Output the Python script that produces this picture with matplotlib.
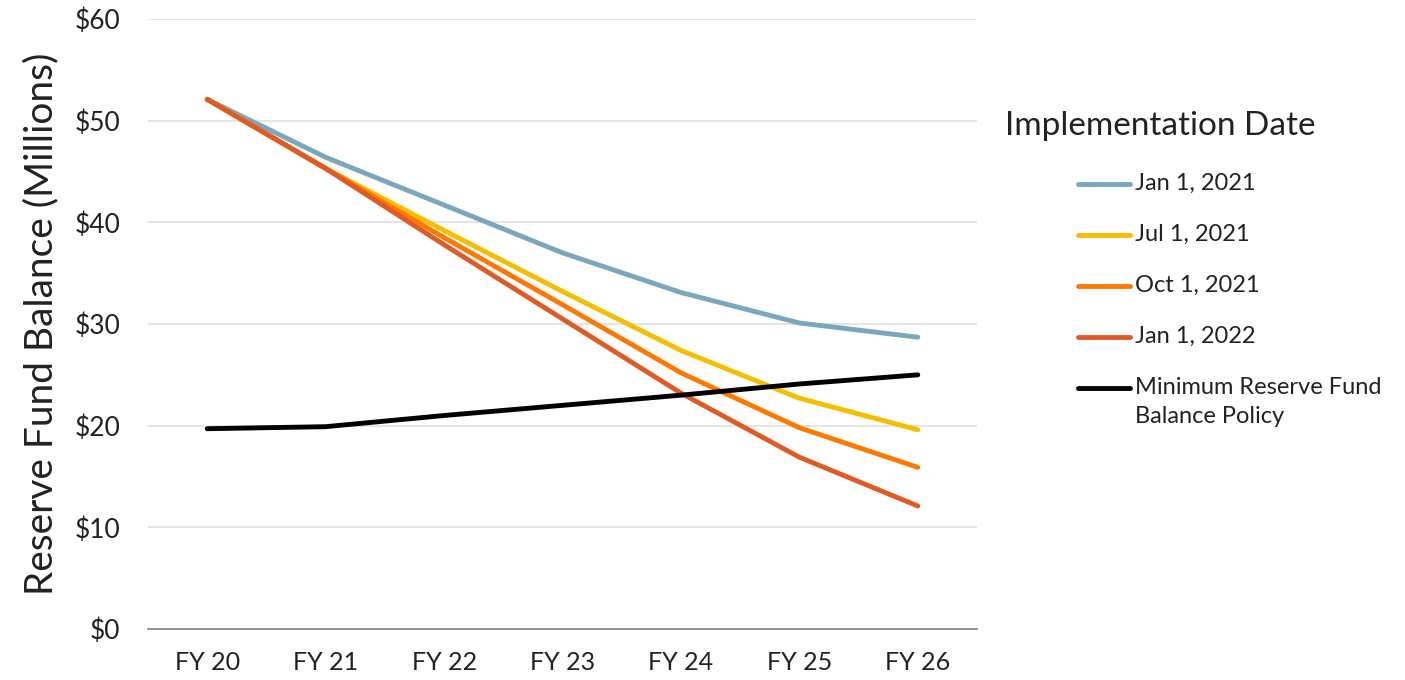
import matplotlib
matplotlib.use("Agg")
import matplotlib.pyplot as plt
from matplotlib.lines import Line2D

plt.rcParams['font.family'] = ['Lato', 'DejaVu Sans']

years = ['FY 20', 'FY 21', 'FY 22', 'FY 23', 'FY 24', 'FY 25', 'FY 26']
jan2021 = [52.1, 46.4, 41.7, 37.0, 33.1, 30.1, 28.7]
jul2021 = [52.1, 45.3, 39.2, 33.2, 27.4, 22.7, 19.6]
oct2021 = [52.1, 45.3, 38.5, 31.9, 25.2, 19.8, 15.9]
jan2022 = [52.1, 45.3, 37.8, 30.5, 23.2, 16.9, 12.1]
min_policy = [19.7, 19.9, 21.0, 22.0, 23.0, 24.1, 25.0]

series = [
    ('Jan 1, 2021', jan2021, '#7BA7BC'),
    ('Jul 1, 2021', jul2021, '#F5BF00'),
    ('Oct 1, 2021', oct2021, '#FF7800'),
    ('Jan 1, 2022', jan2022, '#E05A25'),
    ('Minimum Reserve Fund\nBalance Policy', min_policy, '#000000'),
]

W, H = 1405, 680
fig = plt.figure(figsize=(W / 100, H / 100), dpi=100)
ax = fig.add_axes([148 / W, 1 - 629 / H, 829 / W, 610 / H])

x = range(len(years))
for label, vals, col in series:
    ax.plot(x, vals, color=col, lw=3.5, solid_capstyle='round',
            solid_joinstyle='round', label=label)

ax.set_xlim(-0.5, len(years) - 0.5)
ax.set_ylim(0, 60)
ax.set_yticks(range(0, 61, 10))
ax.set_yticklabels(['$' + str(v) for v in range(0, 61, 10)])
ax.set_xticks(list(x))
ax.set_xticklabels(years)
ax.grid(axis='y', color='#E3E3E3', lw=1.3)
ax.set_axisbelow(True)
for s in ['top', 'right', 'left']:
    ax.spines[s].set_visible(False)
ax.spines['bottom'].set_color('#8C8C8C')
ax.spines['bottom'].set_linewidth(1.3)
ax.tick_params(axis='both', length=0, labelsize=18, colors='#222222')
ax.tick_params(axis='y', labelsize=19, pad=20)
ax.tick_params(axis='x', pad=16)
ax.set_ylabel('Reserve Fund Balance (Millions)', fontsize=28, color='#222222', labelpad=11)

# legend drawn by hand so the two-line label sits like the original
fig.text(1005 / W, 1 - 126 / H, 'Implementation Date', fontsize=24, color='#222222', va='center')
for i, (label, vals, col) in enumerate(series):
    yc = 1 - (184 + 51 * i) / H
    fig.add_artist(Line2D([1078 / W, 1130 / W], [yc, yc], color=col, lw=3.5,
                          solid_capstyle='round', transform=fig.transFigure))
    fig.text(1135 / W, yc + 11 / H, label, fontsize=17, color='#222222', va='top',
             linespacing=1.45)

fig.savefig('out.png', dpi=100)
